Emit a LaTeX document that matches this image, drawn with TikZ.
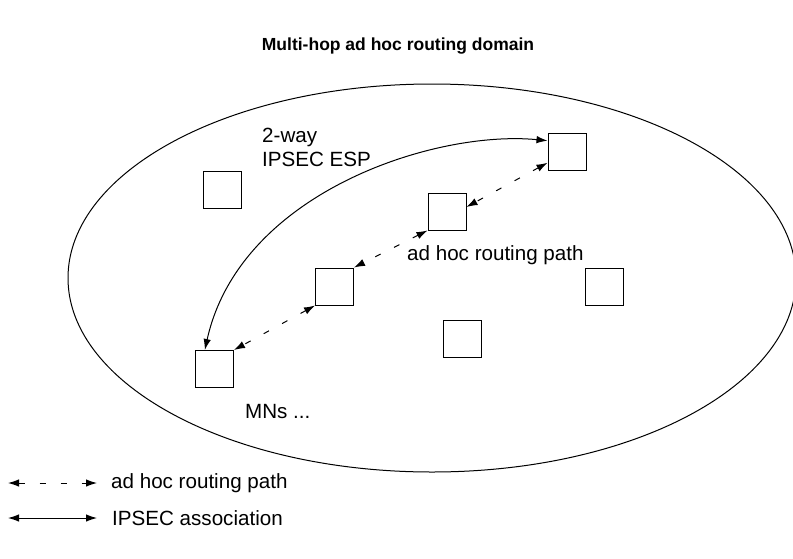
\documentclass[tikz,border=0pt]{standalone}
\usepackage{fontspec}
\setmainfont{Liberation Sans}
\usepackage{tikz}
\usetikzlibrary{arrows.meta, positioning}

\begin{document}
\begin{tikzpicture}[
    x=1pt, y=-1pt,
    mn/.style={
        rectangle, draw, line width=1pt, inner sep=0pt,
        minimum width=38pt, minimum height=37pt
    },
    lbl/.style={
        inner sep=0pt, font=\fontsize{20.6}{24}\selectfont, align=left
    },
    heading/.style={
        inner sep=0pt, font=\fontsize{17.5}{21}\selectfont\bfseries
    },
    hop/.style={
        line width=1pt, dash pattern=on 6pt off 15pt,
        {Latex[length=11pt,width=7.5pt]}-{Latex[length=11pt,width=7.5pt]}
    },
    esp/.style={
        line width=1pt,
        {Latex[length=11pt,width=7.5pt]}-{Latex[length=11pt,width=7.5pt]}
    }
]
\useasboundingbox (0,0) rectangle (793,558);

%% Title
\node (title) [heading] at (398,46) {Multi-hop ad hoc routing domain};

%% Routing domain
\draw [line width=1pt] (432,278) ellipse [x radius=364, y radius=194];

%% Mobile nodes
\node (mnA) [mn] at (567,151.5) {};
\node (mnB) [mn] at (222,189.5) {};
\node (mnC) [mn] at (447,211.5) {};
\node (mnD) [mn] at (334.5,286.5) {};
\node (mnE) [mn] at (604,286.5) {};
\node (mnF) [mn] at (462,339) {};
\node (mnG) [mn] at (214.5,369) {};

%% Labels
\node (esplbl)  [lbl, anchor=west] at (262,147) {2-way\\IPSEC ESP};
\node (pathlbl) [lbl, anchor=west] at (407,255) {ad hoc routing path};
\node (mnlbl)   [lbl, anchor=west] at (245,412) {MNs ...};

%% Hop-by-hop path
\draw [hop] (mnA.210) -- (mnC.13);
\draw [hop] (mnC.south west) -- (mnD.north east);
\draw [hop] (mnD.south west) -- (mnG.north east);

%% End-to-end association
\draw [esp] (mnA.151) .. controls +(-112,-11) and +(35,-158) .. (mnG.117);

%% Legend
\coordinate (hopL) at (8,483);
\coordinate (hopR) at (97,483);
\coordinate (espL) at (8,518);
\coordinate (espR) at (97,518);
\draw [hop] (hopL) -- (hopR);
\draw [esp] (espL) -- (espR);
\node (hoptxt) [lbl, anchor=west] at (111,483) {ad hoc routing path};
\node (esptxt) [lbl, anchor=west] at (112,518) {IPSEC association};

\end{tikzpicture}
\end{document}
